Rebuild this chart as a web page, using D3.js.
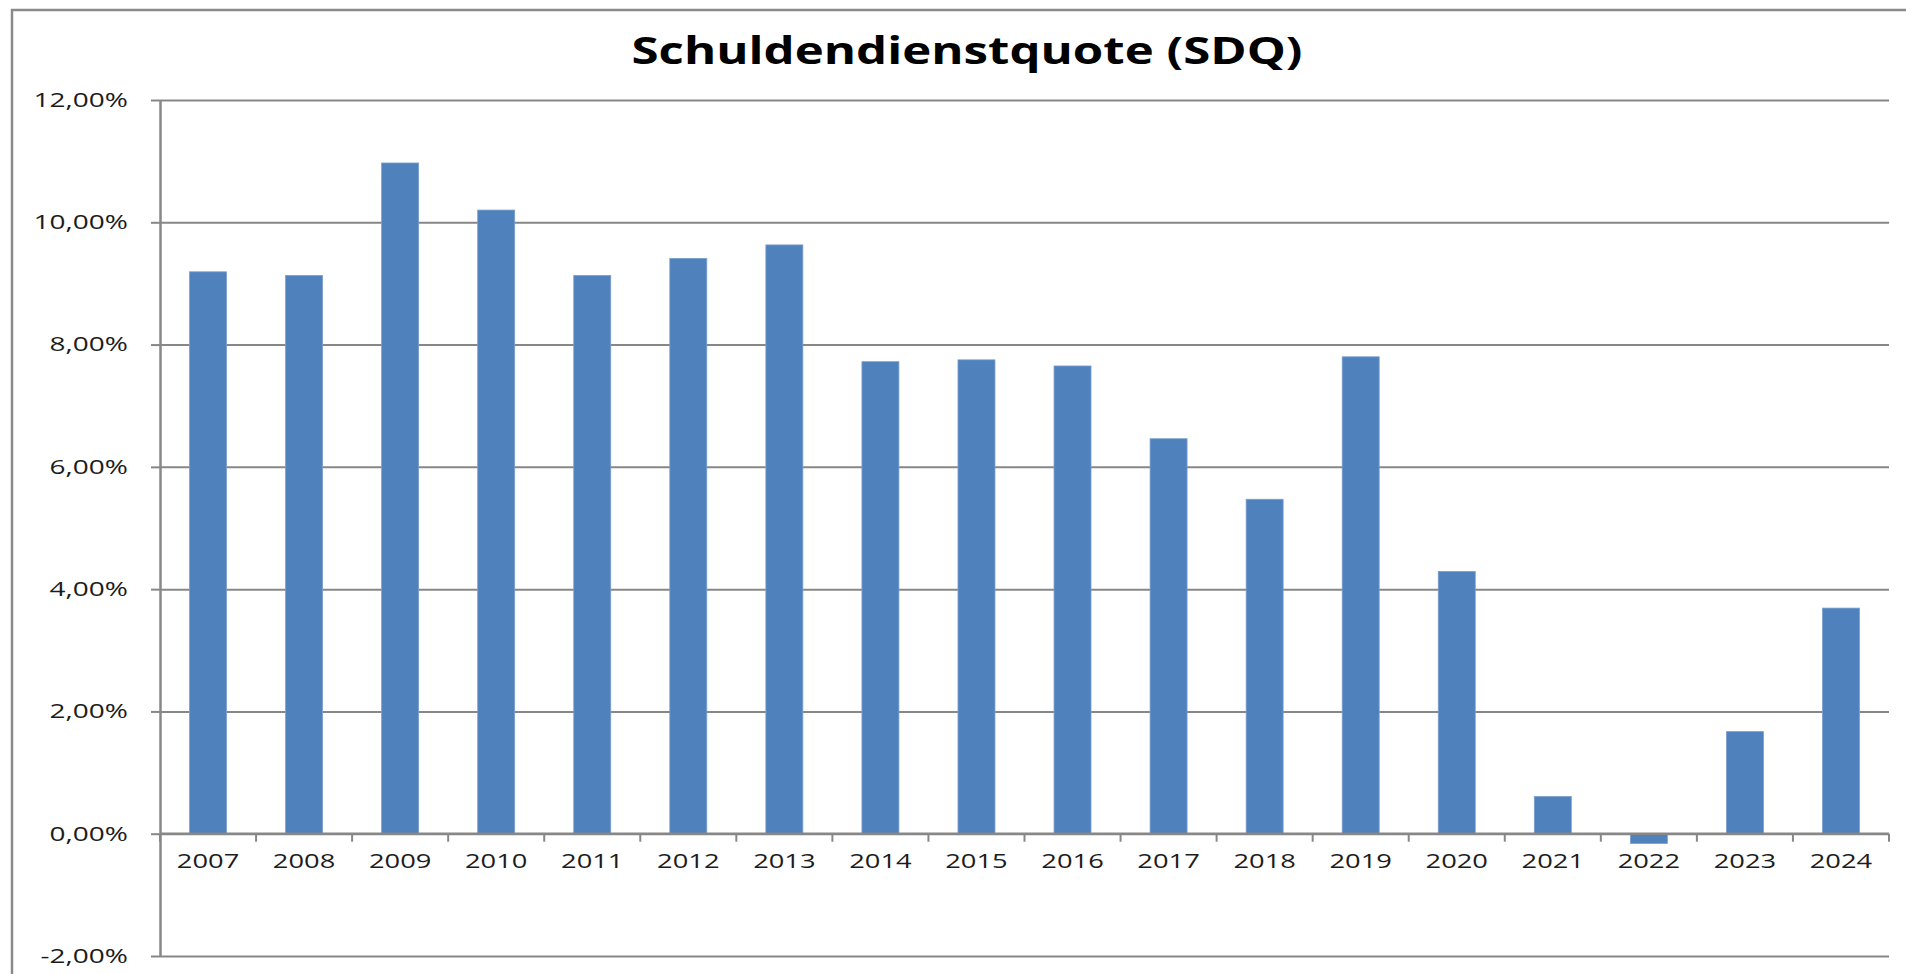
<!DOCTYPE html>
<html lang="de">
<head>
<meta charset="utf-8">
<title>Schuldendienstquote (SDQ)</title>
<script src="https://cdn.jsdelivr.net/npm/d3@7/dist/d3.min.js"></script>
<style>
  html, body { margin: 0; padding: 0; background: #ffffff; }
  svg { display: block; }
  text { font-family: "Open Sans", "Noto Sans", sans-serif; }
</style>
</head>
<body>
<svg id="chart" width="1906" height="974"></svg>
<script>
// Jahre und Schuldendienstquote in Prozent
const years = ["2007", "2008", "2009", "2010", "2011", "2012", "2013", "2014", "2015",
               "2016", "2017", "2018", "2019", "2020", "2021", "2022", "2023", "2024"];
const sdq = [9.19, 9.13, 10.97, 10.20, 9.13, 9.41, 9.63, 7.72, 7.75,
             7.65, 6.46, 5.47, 7.80, 4.29, 0.61, -0.16, 1.67, 3.69];
const yTicks = [-2, 0, 2, 4, 6, 8, 10, 12];
const titleText = "Schuldendienstquote (SDQ)";

const svg = d3.select("#chart");
const W = 1906, H = 974;
const plot = { left: 160, right: 1889, top: 100, bottom: 956 };
const STRETCH = 1.4;       // horizontal stretch of the labels
const gridColor = "#878787";
const barColor = "#4F81BD";

// chart frame
svg.append("rect")
  .attr("x", 12).attr("y", 10)
  .attr("width", W + 20).attr("height", H + 20)
  .attr("fill", "#ffffff")
  .attr("stroke", "#8a8a8a")
  .attr("stroke-width", 2.5);

const x = d3.scaleBand()
  .domain(years)
  .range([plot.left, plot.right])
  .paddingInner(0.615)
  .paddingOuter(0.3075);

const y = d3.scaleLinear()
  .domain([d3.min(yTicks), d3.max(yTicks)])
  .range([plot.bottom, plot.top]);

// German number format with a plain hyphen for negatives
const fmtPct = d => d3.format(".2f")(d).replace(".", ",").replace("\u2212", "-") + "%";

// horizontal gridlines
svg.append("g")
  .attr("transform", `translate(${plot.left},0)`)
  .call(d3.axisLeft(y).tickValues(yTicks).tickSize(-(plot.right - plot.left)).tickFormat(""))
  .call(g => g.select(".domain").remove())
  .call(g => g.selectAll("line").attr("stroke", gridColor).attr("stroke-width", 2));

// bars
svg.append("g")
  .selectAll("rect")
  .data(years.map((yr, i) => ({ yr, v: sdq[i] })))
  .join("rect")
  .attr("x", d => x(d.yr))
  .attr("width", x.bandwidth())
  .attr("y", d => y(Math.max(0, d.v)))
  .attr("height", d => Math.abs(y(d.v) - y(0)))
  .attr("fill", barColor)
  .attr("stroke", "#7a9fcd")
  .attr("stroke-width", 0.8);

// y axis
const yAxis = svg.append("g")
  .attr("transform", `translate(${plot.left},0)`)
  .call(d3.axisLeft(y).tickValues(yTicks).tickSizeInner(9).tickSizeOuter(0)
    .tickPadding(23).tickFormat(fmtPct));
yAxis.select(".domain").attr("stroke", gridColor).attr("stroke-width", 2.5);
yAxis.selectAll(".tick line").attr("stroke", gridColor).attr("stroke-width", 2);
yAxis.selectAll(".tick text")
  .attr("font-size", 20)
  .attr("fill", "#1c1c1c")
  .attr("transform", function () {
    const tx = +d3.select(this).attr("x");
    return `translate(${tx},0) scale(${STRETCH},1) translate(${-tx},0)`;
  });

// x axis along the zero line
const y0 = y(0);
svg.append("line")
  .attr("x1", plot.left).attr("x2", plot.right)
  .attr("y1", y0).attr("y2", y0)
  .attr("stroke", gridColor).attr("stroke-width", 2.5);

// tick marks between the categories
const boundaries = d3.range(years.length + 1).map(i => plot.left + i * x.step());
svg.append("g")
  .selectAll("line")
  .data(boundaries)
  .join("line")
  .attr("x1", d => d).attr("x2", d => d)
  .attr("y1", y0).attr("y2", y0 + 8)
  .attr("stroke", gridColor).attr("stroke-width", 2);

// category labels
svg.append("g")
  .selectAll("text")
  .data(years)
  .join("text")
  .attr("text-anchor", "middle")
  .attr("font-size", 19.5)
  .attr("fill", "#1c1c1c")
  .attr("transform", d => `translate(${x(d) + x.bandwidth() / 2},${y0 + 34.5}) scale(${STRETCH},1)`)
  .text(d => d);

// title
svg.append("text")
  .attr("text-anchor", "middle")
  .attr("font-size", 37)
  .attr("font-weight", 700)
  .attr("fill", "#000000")
  .attr("transform", `translate(967,64) scale(1.33,1)`)
  .text(titleText);
</script>
</body>
</html>
